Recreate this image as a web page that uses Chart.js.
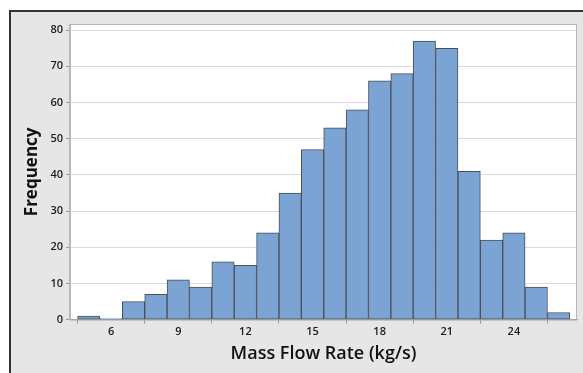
<!DOCTYPE html>
<html>
<head>
<meta charset="utf-8">
<script src="https://cdn.jsdelivr.net/npm/chart.js@4.4.0/dist/chart.umd.min.js"></script>
<style>
  html, body { margin: 0; padding: 0; background: #fff; width: 583px; height: 373px; overflow: hidden; }
  #frame { position: absolute; left: 9px; top: 10px; width: 620px; height: 420px;
           border: 2px solid #333; background: #e6e6e6; }
  #wrap { position: absolute; left: 0; top: 0; width: 583px; height: 373px; }
</style>
</head>
<body>
<div id="frame"></div>
<div id="wrap"><canvas id="chart" width="583" height="373"></canvas></div>
<script>
// bin midpoints (kg/s) and frequencies
const binCenters = [5, 6, 7, 8, 9, 10, 11, 12, 13, 14, 15, 16, 17, 18, 19, 20, 21, 22, 23, 24, 25, 26];
const frequencies = [1, 0.3, 5, 7, 11, 9, 16, 15, 24, 35, 47, 53, 58, 66, 68, 77, 75, 41, 22, 24, 9, 2];
const xTicks = [6, 9, 12, 15, 18, 21, 24];
const yTicks = [0, 10, 20, 30, 40, 50, 60, 70, 80];

// white plot area + grey frame round it
const plotBox = {
  id: "plotBox",
  beforeDraw(chart) {
    const { ctx, chartArea: a } = chart;
    ctx.save();
    ctx.fillStyle = "#fff";
    ctx.fillRect(a.left, a.top, a.right - a.left, a.bottom - a.top);
    ctx.restore();
  },
  afterDraw(chart) {
    const { ctx, chartArea: a } = chart;
    ctx.save();
    ctx.strokeStyle = "#b8b8b8";
    ctx.lineWidth = 1;
    ctx.strokeRect(a.left + 0.5, a.top + 0.5, a.right - a.left - 1, a.bottom - a.top);
    ctx.restore();
  }
};

const font = "'Open Sans', 'Noto Sans', sans-serif";

new Chart(document.getElementById("chart"), {
  type: "bar",
  data: {
    datasets: [{
      data: binCenters.map((x, i) => ({ x, y: frequencies[i] })),
      backgroundColor: "#7ba3d4",
      borderColor: "#4a4f57",
      borderWidth: 1,
      borderSkipped: false,
      barPercentage: 1,
      categoryPercentage: 1
    }]
  },
  options: {
    responsive: false,
    animation: false,
    layout: { padding: { left: 22, top: 24, right: 6, bottom: 8.5 } },
    plugins: { legend: { display: false }, tooltip: { enabled: false } },
    scales: {
      x: {
        type: "linear",
        offset: false,
        min: 4.16,
        max: 26.82,
        afterBuildTicks: s => { s.ticks = xTicks.map(v => ({ value: v })); },
        ticks: { color: "#1a1a1a", font: { family: font, size: 11, weight: "600" }, padding: 2, maxRotation: 0 },
        grid: { drawOnChartArea: false, tickLength: 4, color: "#9a9a9a" },
        border: { display: true, color: "#9a9a9a" },
        title: { display: true, text: "Mass Flow Rate (kg/s)", color: "#111",
                 font: { family: font, size: 18, weight: "600" }, padding: { top: 2, bottom: 0 } }
      },
      y: {
        min: 0,
        max: 81.7,
        afterBuildTicks: s => { s.ticks = yTicks.map(v => ({ value: v })); },
        ticks: { color: "#1a1a1a", font: { family: font, size: 11, weight: "600" }, padding: 3 },
        grid: { color: "#dadada", tickLength: 4, tickColor: "#9a9a9a" },
        border: { display: true, color: "#b8b8b8" },
        title: { display: true, text: "Frequency", color: "#111",
                 font: { family: font, size: 17, weight: "700" }, padding: { top: 0, bottom: 5 } }
      }
    }
  },
  plugins: [plotBox]
});
</script>
</body>
</html>
